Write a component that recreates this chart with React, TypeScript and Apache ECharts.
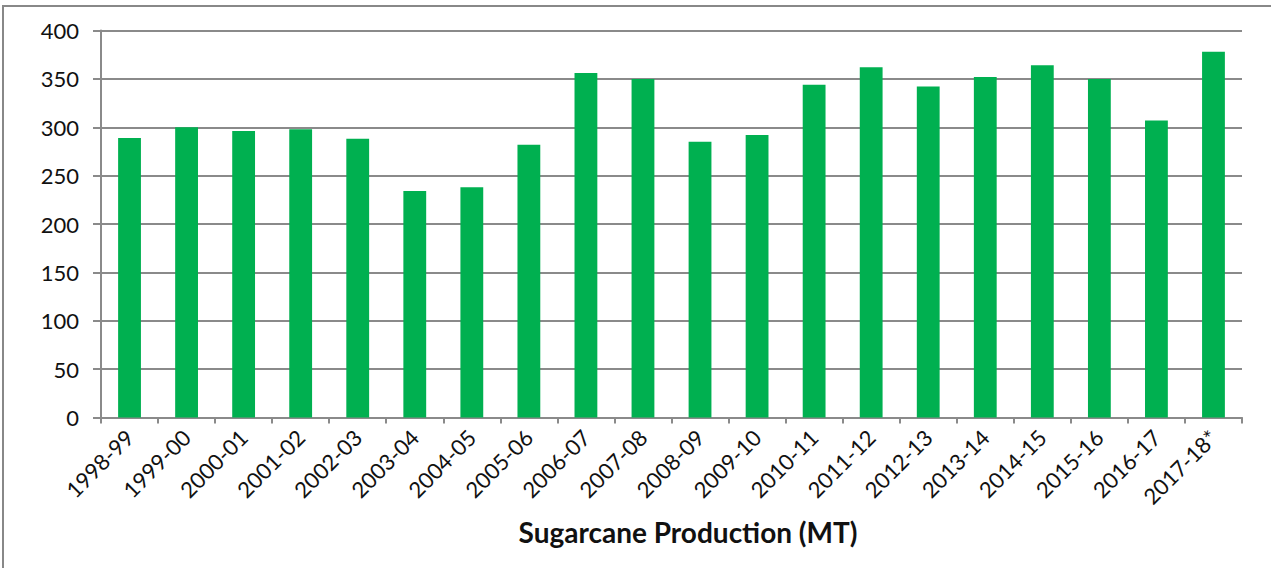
import React, { useEffect, useRef } from "react";
import * as echarts from "echarts";

const categories = [
  "1998-99", "1999-00", "2000-01", "2001-02", "2002-03", "2003-04", "2004-05",
  "2005-06", "2006-07", "2007-08", "2008-09", "2009-10", "2010-11", "2011-12",
  "2012-13", "2013-14", "2014-15", "2015-16", "2016-17", "2017-18*",
];
const production = [
  289, 300, 296, 298, 288, 234, 238, 282, 356, 350, 285, 292, 344, 362, 342,
  352, 364, 350, 307, 378,
];
const axisTitle = "Sugarcane Production (MT)";

export default function App() {
  const ref = useRef<HTMLDivElement>(null);
  useEffect(() => {
    if (!ref.current) return;
    const chart = echarts.init(ref.current, null, { renderer: "svg" });
    const gray = "#8a8a8a";
    chart.setOption({
      animation: false,
      backgroundColor: "#ffffff",
      textStyle: { fontFamily: "Lato" },
      graphic: [
        {
          type: "rect",
          shape: { x: 3, y: 6, width: 1300, height: 600 },
          style: { fill: "none", stroke: "#888888", lineWidth: 2 },
          silent: true,
        },
      ],
      grid: { left: 101, right: 29, top: 30.5, bottom: 150.5, containLabel: false },
      xAxis: {
        type: "category",
        data: categories,
        name: axisTitle,
        nameLocation: "middle",
        nameGap: 100,
        nameTextStyle: {
          fontFamily: "Lato",
          fontWeight: "bold",
          fontSize: 28,
          color: "#111",
          padding: [0, 0, 0, 33],
        },
        axisLine: { show: true, lineStyle: { color: gray, width: 2 } },
        axisTick: { show: true, length: 6, lineStyle: { color: gray, width: 2 } },
        axisLabel: {
          rotate: 45,
          interval: 0,
          fontSize: 22,
          color: "#111",
          margin: 16,
          fontFamily: "Lato",
        },
      },
      yAxis: {
        type: "value",
        min: 0,
        max: 400,
        interval: 50,
        axisLine: { show: true, lineStyle: { color: gray, width: 2 } },
        axisTick: { show: true, length: 8, lineStyle: { color: gray, width: 2 } },
        axisLabel: { fontSize: 22, color: "#111", margin: 22, fontFamily: "Lato" },
        splitLine: { show: true, lineStyle: { color: gray, width: 2 } },
      },
      series: [
        {
          type: "bar",
          data: production,
          barWidth: "40%",
          itemStyle: { color: "#00B050" },
        },
      ],
    });
    return () => chart.dispose();
  }, []);
  return (
    <div
      ref={ref}
      style={{ position: "absolute", left: 0, top: 0, width: 1271, height: 568 }}
    />
  );
}
